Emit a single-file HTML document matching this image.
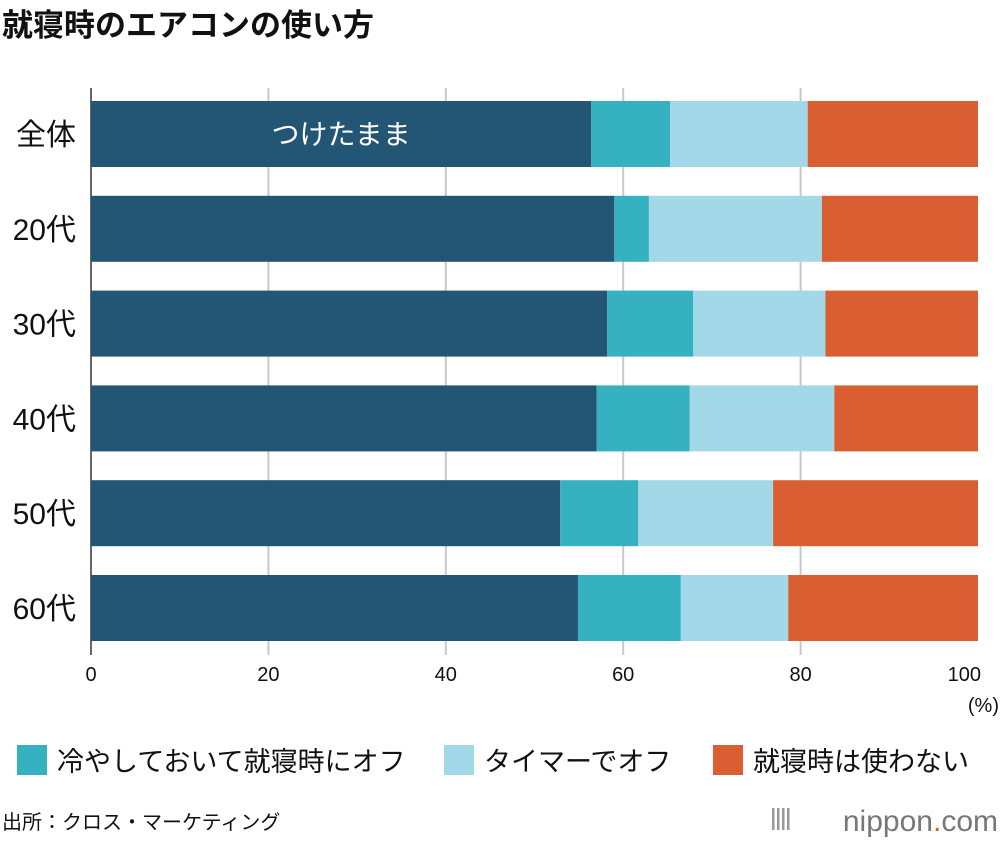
<!DOCTYPE html>
<html><head><meta charset="utf-8"><style>
body{margin:0;background:#fff;font-family:"Liberation Sans","Noto Sans CJK JP",sans-serif;}
#wrap{position:relative;width:1000px;height:842px;overflow:hidden;}
</style></head><body>
<div id="wrap">
<svg id="chart" width="1000" height="842"></svg>
</div>
<script>
const categories=["全体","20代","30代","40代","50代","60代"];
const seriesNames=["つけたまま","冷やしておいて就寝時にオフ","タイマーでオフ","就寝時は使わない"];
const keepOn=[56.4,59.0,58.2,57.0,52.9,54.9];
const offAtSleep=[8.9,3.9,9.7,10.5,8.8,11.6];
const timerOff=[15.5,19.5,14.9,16.3,15.2,12.1];
const notUsed=[19.2,17.6,17.2,16.2,23.1,21.4];
const ticks=[0,20,40,60,80,100];
const colors=["#235574","#35b1bf","#a2d8e8","#d95f33"];
const NS="http://www.w3.org/2000/svg";
const svg=document.getElementById('chart');
const x0=91,x1=978;
function xs(v){return x0+(x1-x0)*v/100;}
function ys(i){return 101+i*94.8;}
const bh=66;
function mk(tag,attrs,parent){const e=document.createElementNS(NS,tag);for(const k in attrs)e.setAttribute(k,attrs[k]);(parent||svg).appendChild(e);return e;}
let t=mk('text',{x:2,y:36,'font-size':31,'font-weight':'bold',fill:'#111'});t.textContent="就寝時のエアコンの使い方";


ticks.forEach(v=>{
  if(v>0&&v<100){const g=mk('line',{x1:xs(v),x2:xs(v),y1:88,y2:655,stroke:'#c8c8c8','stroke-width':2});
  
  }
  const l=mk('text',{x:xs(v),y:681,'font-size':20,'text-anchor':v==100?'end':'middle',fill:'#111'});
  if(v==100)l.setAttribute('x',x1+3);
  l.textContent=v;
  
  
});
let al=mk('line',{x1:x0,x2:x0,y1:88,y2:655,stroke:'#333','stroke-width':1.5});


let pc=mk('text',{x:999,y:712,'font-size':20,'text-anchor':'end',fill:'#111'});pc.textContent="(%)";


const series=[keepOn,offAtSleep,timerOff,notUsed];
categories.forEach((c,i)=>{
  let cum=0;
  series.forEach((s,k)=>{
    const r=mk('rect',{x:xs(cum),y:ys(i),width:xs(cum+s[i])-xs(cum),height:bh,fill:colors[k]});
    
    
    cum+=s[i];
  });
  const l=mk('text',{x:76,y:ys(i)+bh/2+11,'font-size':30,'text-anchor':'end',fill:'#111'});
  l.textContent=c;
  
  
});
let inl=mk('text',{x:xs(keepOn[0]/2),y:ys(0)+bh/2+10,'font-size':28,'text-anchor':'middle',fill:'#fff'});inl.textContent="つけたまま";


const legX=[17,444,713];
for(let k=1;k<4;k++){
  const g=mk('g',{});
  
  
  mk('rect',{x:legX[k-1],y:745,width:30,height:30,fill:colors[k]},g);
  const tx=mk('text',{x:legX[k-1]+40,y:771,'font-size':27,fill:'#111'},g);tx.textContent=seriesNames[k];
}
let src=mk('text',{x:2,y:829,'font-size':20,fill:'#111'});src.textContent="出所：クロス・マーケティング";


let lg=mk('text',{x:998,y:831,'font-size':30,'text-anchor':'end',fill:'#777'});
lg.innerHTML='nippon<tspan fill="#d95f33">.</tspan>com';


for(let j=0;j<4;j++){mk('rect',{x:772+j*5,y:808,width:2.5,height:22,fill:'#999'});}
</script>
</body></html>
